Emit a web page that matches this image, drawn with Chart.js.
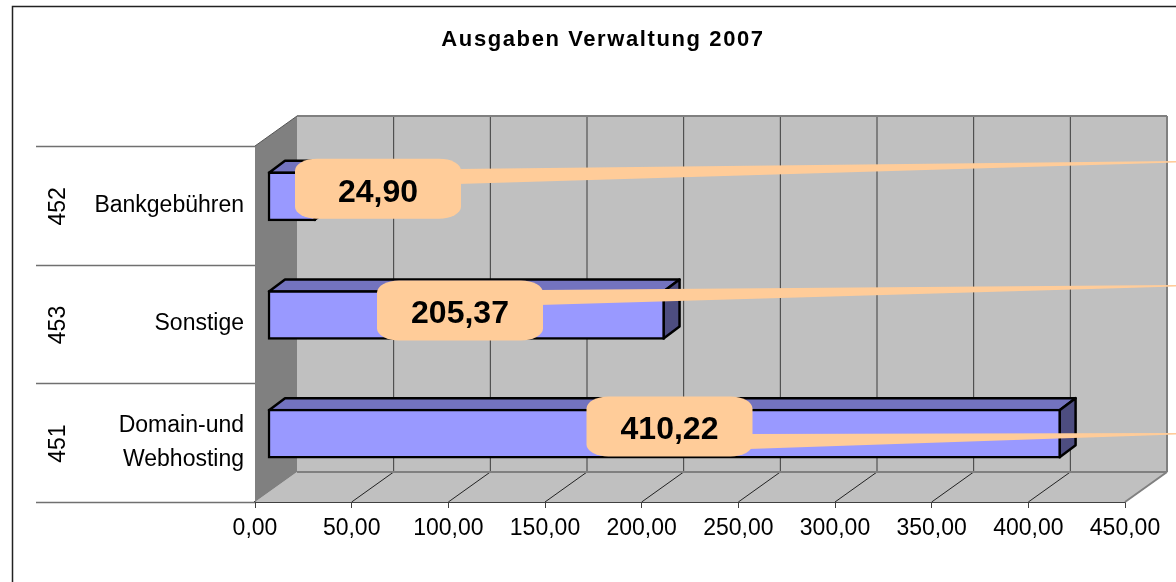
<!DOCTYPE html>
<html lang="de">
<head>
<meta charset="utf-8">
<title>Ausgaben Verwaltung 2007</title>
<script src="https://cdn.jsdelivr.net/npm/chart.js@4"></script>
<style>
  html, body { margin: 0; padding: 0; background: #fff; overflow: hidden; }
  canvas { display: block; }
</style>
</head>
<body>
<canvas id="chart" width="1176" height="582"></canvas>
<script>
const titleText = "Ausgaben Verwaltung 2007";
const categories = ["Bankgebühren", "Sonstige", ["Domain-und", "Webhosting"]];
const accounts = ["452", "453", "451"];
const amounts = [24.90, 205.37, 410.22];
const axisMax = 450;
const axisStep = 50;

const FONT = "'Liberation Sans', Arial, sans-serif";
const WALL = { dx: 42, dy: -30 };   // Rückwand gegenüber der Vorderkante
const BAR = { dx: 12.5, dy: -9 };   // Balken stehen etwas in der Tiefe
const FACE = { dx: 16, dy: -12 };   // Tiefe der Balken
// Lage der Beschriftungen: Mitte des Kastens, Ende des Zipfels am rechten Rand
const callouts = [
  { cx: 378, cy: 188.7, tailTop: 169, tailBottom: 184, tipY: 161 },
  { cx: 460, cy: 310.5, tailTop: 290, tailBottom: 305, tipY: 285 },
  { cx: 669.5, cy: 426.5, tailTop: 434, tailBottom: 449, tipY: 433 }
];

const money = (v) => v.toFixed(2).replace(".", ",");

function poly(ctx, pts, fill, stroke, width) {
  ctx.beginPath();
  pts.forEach((p, i) => (i ? ctx.lineTo(p[0], p[1]) : ctx.moveTo(p[0], p[1])));
  ctx.closePath();
  if (fill) { ctx.fillStyle = fill; ctx.fill(); }
  if (stroke) { ctx.strokeStyle = stroke; ctx.lineWidth = width; ctx.lineJoin = "round"; ctx.stroke(); }
}

function line(ctx, x1, y1, x2, y2, color, width) {
  ctx.beginPath();
  ctx.moveTo(x1, y1);
  ctx.lineTo(x2, y2);
  ctx.strokeStyle = color;
  ctx.lineWidth = width;
  ctx.stroke();
}

const frame3d = {
  id: "frame3d",
  beforeDraw(chart) {
    const ctx = chart.ctx;
    // Titel mit etwas Laufweite und nach rechts gerückt wie im Original
    const tb = chart.titleBlock;
    if (!tb._spaced) {
      const drawTitle = tb.draw;
      tb.draw = function () {
        ctx.save();
        ctx.translate(40.5, 0);
        ctx.letterSpacing = "1.6px";
        drawTitle.apply(tb, arguments);
        ctx.letterSpacing = "0px";
        ctx.restore();
      };
      tb._spaced = true;
    }
    ctx.save();
    ctx.fillStyle = "#fff";
    ctx.fillRect(0, 0, chart.width, chart.height);
    ctx.beginPath();
    ctx.moveTo(12.5, chart.height);
    ctx.lineTo(12.5, 6.5);
    ctx.lineTo(chart.width, 6.5);
    ctx.strokeStyle = "#222";
    ctx.lineWidth = 1.5;
    ctx.stroke();
    ctx.restore();
  },
  beforeDatasetsDraw(chart) {
    const ctx = chart.ctx;
    const { left, right, top, bottom } = chart.chartArea;
    const x = chart.scales.x, y = chart.scales.y;
    const bl = left + WALL.dx, br = right + WALL.dx, bt = top + WALL.dy, bb = bottom + WALL.dy;
    ctx.save();
    poly(ctx, [[bl, bt], [br, bt], [br, bb], [bl, bb]], "#c0c0c0");
    poly(ctx, [[left, bottom], [bl, bb], [br, bb], [right, bottom]], "#c0c0c0");
    poly(ctx, [[left, top], [bl, bt], [bl, bb], [left, bottom]], "#808080");
    x.ticks.forEach((t, i) => {
      if (i === 0 || i === x.ticks.length - 1) return;
      const px = x.getPixelForValue(t.value);
      line(ctx, px + WALL.dx, bt, px + WALL.dx, bb, "#3c3c3c", 1);
      line(ctx, px, bottom, px + WALL.dx, bb, "#222", 1);
    });
    line(ctx, bl, bt, br, bt, "#808080", 2);
    line(ctx, br, bt, br, bb, "#808080", 2);
    line(ctx, bl, bb, br, bb, "#808080", 2);
    line(ctx, right, bottom, br, bb, "#808080", 2);
    line(ctx, left, top, bl, bt, "#555", 1);
    // Spalte mit den Kontonummern
    const band = (bottom - top) / categories.length;
    for (let i = 0; i <= categories.length; i++) {
      const ly = Math.round(top + band * i) + 0.5;
      line(ctx, 36, ly, left, ly, "#707070", 1.5);
    }
    ctx.fillStyle = "#000";
    ctx.font = "23px " + FONT;
    ctx.textAlign = "center";
    ctx.textBaseline = "middle";
    accounts.forEach((code, i) => {
      ctx.save();
      ctx.translate(59, y.getPixelForValue(i) + 1);
      ctx.rotate(-Math.PI / 2);
      ctx.fillText(code, 0, 0);
      ctx.restore();
    });
    ctx.restore();
  },
  beforeDatasetDraw(chart, args) {
    const ctx = chart.ctx;
    ctx.save();
    ctx.translate(BAR.dx, BAR.dy);
    args.meta.data.forEach((bar) => {
      const p = bar.getProps(["x", "y", "base", "height"], true);
      const x0 = p.base + 1, x1 = p.x - 1, y0 = p.y - p.height / 2 + 1, y1 = p.y + p.height / 2 - 1;
      poly(ctx, [[x0, y0], [x0 + FACE.dx, y0 + FACE.dy], [x1 + FACE.dx, y0 + FACE.dy], [x1, y0]], "#7373bf", "#000", 2.5);
      poly(ctx, [[x1, y0], [x1 + FACE.dx, y0 + FACE.dy], [x1 + FACE.dx, y1 + FACE.dy], [x1, y1]], "#4d4d80", "#000", 2.5);
    });
  },
  afterDatasetDraw(chart) {
    chart.ctx.restore();
  },
  afterDatasetsDraw(chart) {
    const ctx = chart.ctx;
    const w = 166, h = 60, rx = 22, ry = 12;
    ctx.save();
    callouts.forEach((c, i) => {
      const l = c.cx - w / 2, r = c.cx + w / 2, t = c.cy - h / 2, b = c.cy + h / 2;
      poly(ctx, [[r - 4, c.tailTop], [chart.width, c.tipY], [chart.width, c.tipY + 1.5], [r - 4, c.tailBottom]], "#ffcc99");
      ctx.beginPath();
      ctx.moveTo(l + rx, t);
      ctx.lineTo(r - rx, t);
      ctx.ellipse(r - rx, t + ry, rx, ry, 0, -Math.PI / 2, 0);
      ctx.lineTo(r, b - ry);
      ctx.ellipse(r - rx, b - ry, rx, ry, 0, 0, Math.PI / 2);
      ctx.lineTo(l + rx, b);
      ctx.ellipse(l + rx, b - ry, rx, ry, 0, Math.PI / 2, Math.PI);
      ctx.lineTo(l, t + ry);
      ctx.ellipse(l + rx, t + ry, rx, ry, 0, Math.PI, Math.PI * 1.5);
      ctx.closePath();
      ctx.fillStyle = "#ffcc99";
      ctx.fill();
      ctx.fillStyle = "#000";
      ctx.font = "bold 32px " + FONT;
      ctx.textAlign = "center";
      ctx.textBaseline = "middle";
      ctx.fillText(money(amounts[i]), c.cx, c.cy + 4);
    });
    ctx.restore();
  }
};

new Chart(document.getElementById("chart"), {
  type: "bar",
  data: {
    labels: categories,
    datasets: [{
      data: amounts,
      backgroundColor: "#9999ff",
      borderColor: "#000",
      borderWidth: 2.5,
      borderSkipped: false,
      barThickness: 49,
      clip: false
    }]
  },
  options: {
    indexAxis: "y",
    responsive: false,
    animation: false,
    devicePixelRatio: 1,
    layout: { padding: { left: 0, right: 51, top: 0, bottom: 0 } },
    plugins: {
      legend: { display: false },
      tooltip: { enabled: false },
      title: {
        display: true,
        text: titleText,
        color: "#000",
        font: { family: FONT, size: 22, weight: "bold", lineHeight: 1.2 },
        padding: { top: 27, bottom: 92.6 },
        fullSize: true
      }
    },
    scales: {
      x: {
        min: 0,
        max: axisMax,
        ticks: {
          stepSize: axisStep,
          color: "#000",
          padding: 7,
          maxRotation: 0,
          font: { family: FONT, size: 23 },
          callback: (v) => money(v)
        },
        grid: { drawOnChartArea: false, tickLength: 6, color: "#404040" },
        border: { display: true, color: "#404040", width: 2 },
        afterFit(scale) { scale.height = 80; }
      },
      y: {
        ticks: {
          color: "#000",
          padding: 11,
          font: { family: FONT, size: 23, lineHeight: 1.44 }
        },
        grid: { display: false, drawTicks: false },
        border: { display: true, color: "#404040", width: 1 },
        afterFit(scale) { scale.width = 255; }
      }
    }
  },
  plugins: [frame3d]
});
</script>
</body>
</html>
